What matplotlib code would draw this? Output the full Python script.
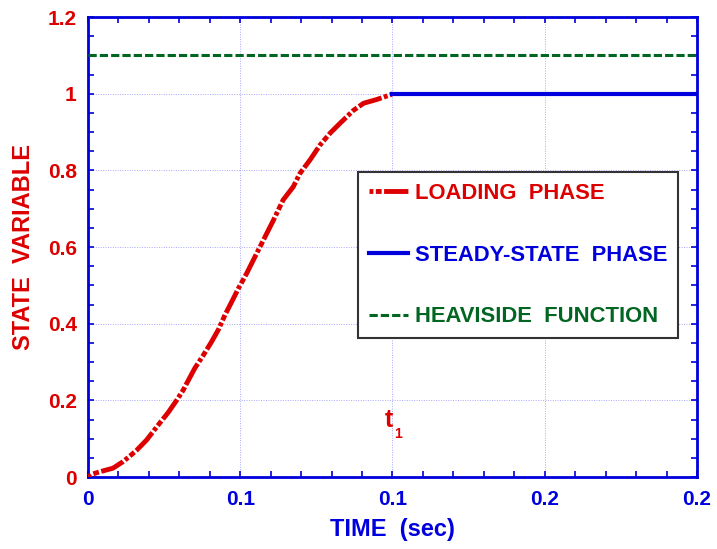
import matplotlib
matplotlib.use("Agg")
import matplotlib.pyplot as plt
from matplotlib.ticker import MultipleLocator

# ── data ────────────────────────────────────────────────────────────────
load_t = [0.0, 0.0012, 0.004, 0.0082, 0.0115, 0.0138, 0.016, 0.0193, 0.0226,
          0.0264, 0.0291, 0.0313, 0.0324, 0.0351, 0.0379, 0.0406, 0.0428,
          0.045, 0.0472, 0.0494, 0.0521, 0.0543, 0.0576, 0.0609, 0.0641,
          0.0674, 0.0696, 0.0729, 0.0762, 0.0795, 0.0828, 0.0871, 0.0905,
          0.0949, 0.0993, 0.1]
load_y = [0.0, 0.007, 0.014, 0.023, 0.04, 0.055, 0.07, 0.097, 0.131,
          0.169, 0.2, 0.227, 0.244, 0.284, 0.318, 0.353, 0.384,
          0.423, 0.457, 0.492, 0.531, 0.566, 0.618, 0.67, 0.723,
          0.757, 0.792, 0.827, 0.866, 0.897, 0.923, 0.956, 0.975,
          0.985, 0.997, 1.0]

steady_t = [0.1, 0.2]
steady_y = [1.0, 1.0]

heavi_t = [0.0, 0.2]
heavi_y = [1.1, 1.1]

x_ticks = [0, 0.05, 0.1, 0.15, 0.2]
x_labels = ["0", "0.1", "0.1", "0.2", "0.2"]
y_ticks = [0, 0.2, 0.4, 0.6, 0.8, 1.0, 1.2]
y_labels = ["0", "0.2", "0.4", "0.6", "0.8", "1", "1.2"]

RED = "#dd0000"
BLUE = "#0000dd"
GREEN = "#006622"

plt.rcParams["font.family"] = ["Liberation Sans", "DejaVu Sans"]
plt.rcParams["font.weight"] = "bold"

fig = plt.figure(figsize=(7.17, 5.49), dpi=100)
ax = fig.add_axes([0.1227, 0.1311, 0.8494, 0.8379])

ax.plot(load_t, load_y, color=RED, lw=3.5,
        linestyle=(0, (0.8, 0.5, 1.2, 0.5, 5, 0.5)), label="LOADING  PHASE",
        zorder=3)
ax.plot(steady_t, steady_y, color=BLUE, lw=3.0, label="STEADY-STATE  PHASE",
        zorder=3)
ax.plot(heavi_t, heavi_y, color=GREEN, lw=2.2, linestyle=(0, (2.7, 1.0)),
        label="HEAVISIDE  FUNCTION", zorder=3)

ax.set_xlim(0, 0.2)
ax.set_ylim(0, 1.2)
ax.set_xticks(x_ticks)
ax.set_xticklabels(x_labels)
ax.set_yticks(y_ticks)
ax.set_yticklabels(y_labels)
ax.xaxis.set_minor_locator(MultipleLocator(0.01))
ax.yaxis.set_minor_locator(MultipleLocator(0.05))

ax.tick_params(which="both", direction="in", top=True, right=True,
               color=BLUE, width=1.2, length=4)
ax.tick_params(axis="x", labelsize=15, labelcolor=BLUE, pad=9)
ax.tick_params(axis="y", labelsize=15, labelcolor=RED, pad=8)
for lab in ax.get_xticklabels() + ax.get_yticklabels():
    lab.set_fontweight("bold")

for sp in ax.spines.values():
    sp.set_color(BLUE)
    sp.set_linewidth(2.0)

ax.grid(True, which="major", color="#a8a8ff", linestyle=(0, (1, 1.5)), lw=0.7)

ax.set_xlabel("TIME  (sec)", fontsize=17, fontweight="bold", color=BLUE,
              labelpad=7)
ax.set_ylabel("STATE  VARIABLE", fontsize=17, fontweight="bold", color=RED,
              labelpad=9)

# t1 marker label
ax.text(0.0989, 0.149, "t", color=RED, fontsize=18, fontweight="bold",
        ha="center", va="center")
ax.text(0.1019, 0.113, "1", color=RED, fontsize=10, fontweight="bold",
        ha="center", va="center")

leg = ax.legend(loc="upper left", bbox_to_anchor=(0.443, 0.663),
                fontsize=15.8, frameon=True, fancybox=False,
                edgecolor="#333333", framealpha=1, labelspacing=1.85,
                handlelength=1.8, handletextpad=0.3, borderpad=0.5,
                borderaxespad=0)
leg.get_frame().set_linewidth(1.5)
for txt, col in zip(leg.get_texts(), [RED, BLUE, GREEN]):
    txt.set_color(col)
    txt.set_fontweight("bold")

fig.savefig("out.png", dpi=100)
